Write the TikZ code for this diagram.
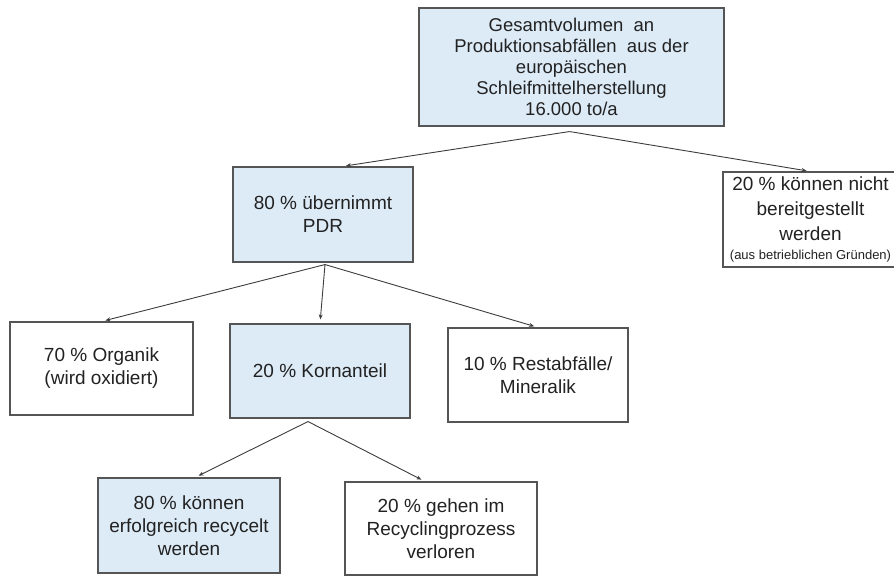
\documentclass[tikz,border=0pt]{standalone}
\usepackage{fontspec}
\setmainfont{Liberation Sans}
\usetikzlibrary{arrows.meta}

\definecolor{boxblue}{RGB}{221,235,247}
\definecolor{boxline}{RGB}{85,85,85}
\definecolor{linkgray}{RGB}{60,60,60}
\definecolor{textgray}{RGB}{34,34,34}

\tikzset{
    box/.style={draw=boxline, line width=1.1pt, fill=white, align=center, inner sep=0pt,
        text=textgray, font=\fontsize{19}{23}\selectfont},
    bluebox/.style={box, fill=boxblue},
    link/.style={draw=linkgray, line width=0.9pt, shorten >=4pt,
        -{Stealth[length=5pt,width=4pt]}}
}

\begin{document}
\begin{tikzpicture}[x=1pt, y=-1pt]
    % Define box size
    \def\boxwidth{180pt}
    \def\boxheight{94pt}

    \useasboundingbox (0,0) rectangle (894,577);

    % Top box (total volume)
    \node[bluebox, minimum width=305pt, minimum height=118pt,
        font=\fontsize{18.5}{21}\selectfont] (total) at (571.5,67)
        {Gesamtvolumen~ an\\Produktionsabfällen~ aus der\\europäischen\\Schleifmittelherstellung\\16.000 to/a};

    % Second row
    \node[bluebox, minimum width=\boxwidth, minimum height=95pt] (pdr) at (323,214.5)
        {80 \% übernimmt\\PDR};
    \node[box, minimum width=175pt, minimum height=95pt,
        font=\fontsize{19}{25}\selectfont] (lacking) at (810.5,219.5)
        {20 \% können nicht\\bereitgestellt\\werden\\[-6pt]{\fontsize{13}{14}\selectfont (aus betrieblichen Gründen)}};

    % Third row
    \node[box, minimum width=183pt, minimum height=93pt] (organik) at (101.5,368.5)
        {70 \% Organik\\(wird oxidiert)};
    \node[bluebox, minimum width=\boxwidth, minimum height=\boxheight] (korn) at (320,371)
        {20 \% Kornanteil};
    \node[box, minimum width=\boxwidth, minimum height=\boxheight] (rest) at (538,375)
        {10 \% Restabfälle/\\Mineralik};

    % Fourth row
    \node[bluebox, minimum width=182pt, minimum height=95pt] (recycled) at (189,525.5)
        {80 \% können\\erfolgreich recycelt\\werden};
    \node[box, minimum width=192pt, minimum height=93pt] (lost) at (441,528.5)
        {20 \% gehen im\\Recyclingprozess\\verloren};

    % Branch points below the boxes
    \coordinate (totalfork) at ([xshift=-2pt,yshift=-5pt]total.south);
    \coordinate (pdrfork) at ([xshift=2pt,yshift=-2pt]pdr.south);
    \coordinate (kornfork) at ([xshift=-12pt,yshift=-3pt]korn.south);

    % Arrows
    \draw[link] (totalfork) -- ([xshift=19pt]pdr.north);
    \draw[link] (totalfork) -- (lacking.north);

    \draw[link] (pdrfork) -- (organik.north);
    \draw[link] (pdrfork) -- (korn.north);
    \draw[link] (pdrfork) -- (rest.north);

    \draw[link] (kornfork) -- ([xshift=6pt]recycled.north);
    \draw[link] (kornfork) -- ([xshift=-16pt]lost.north);

\end{tikzpicture}
\end{document}
